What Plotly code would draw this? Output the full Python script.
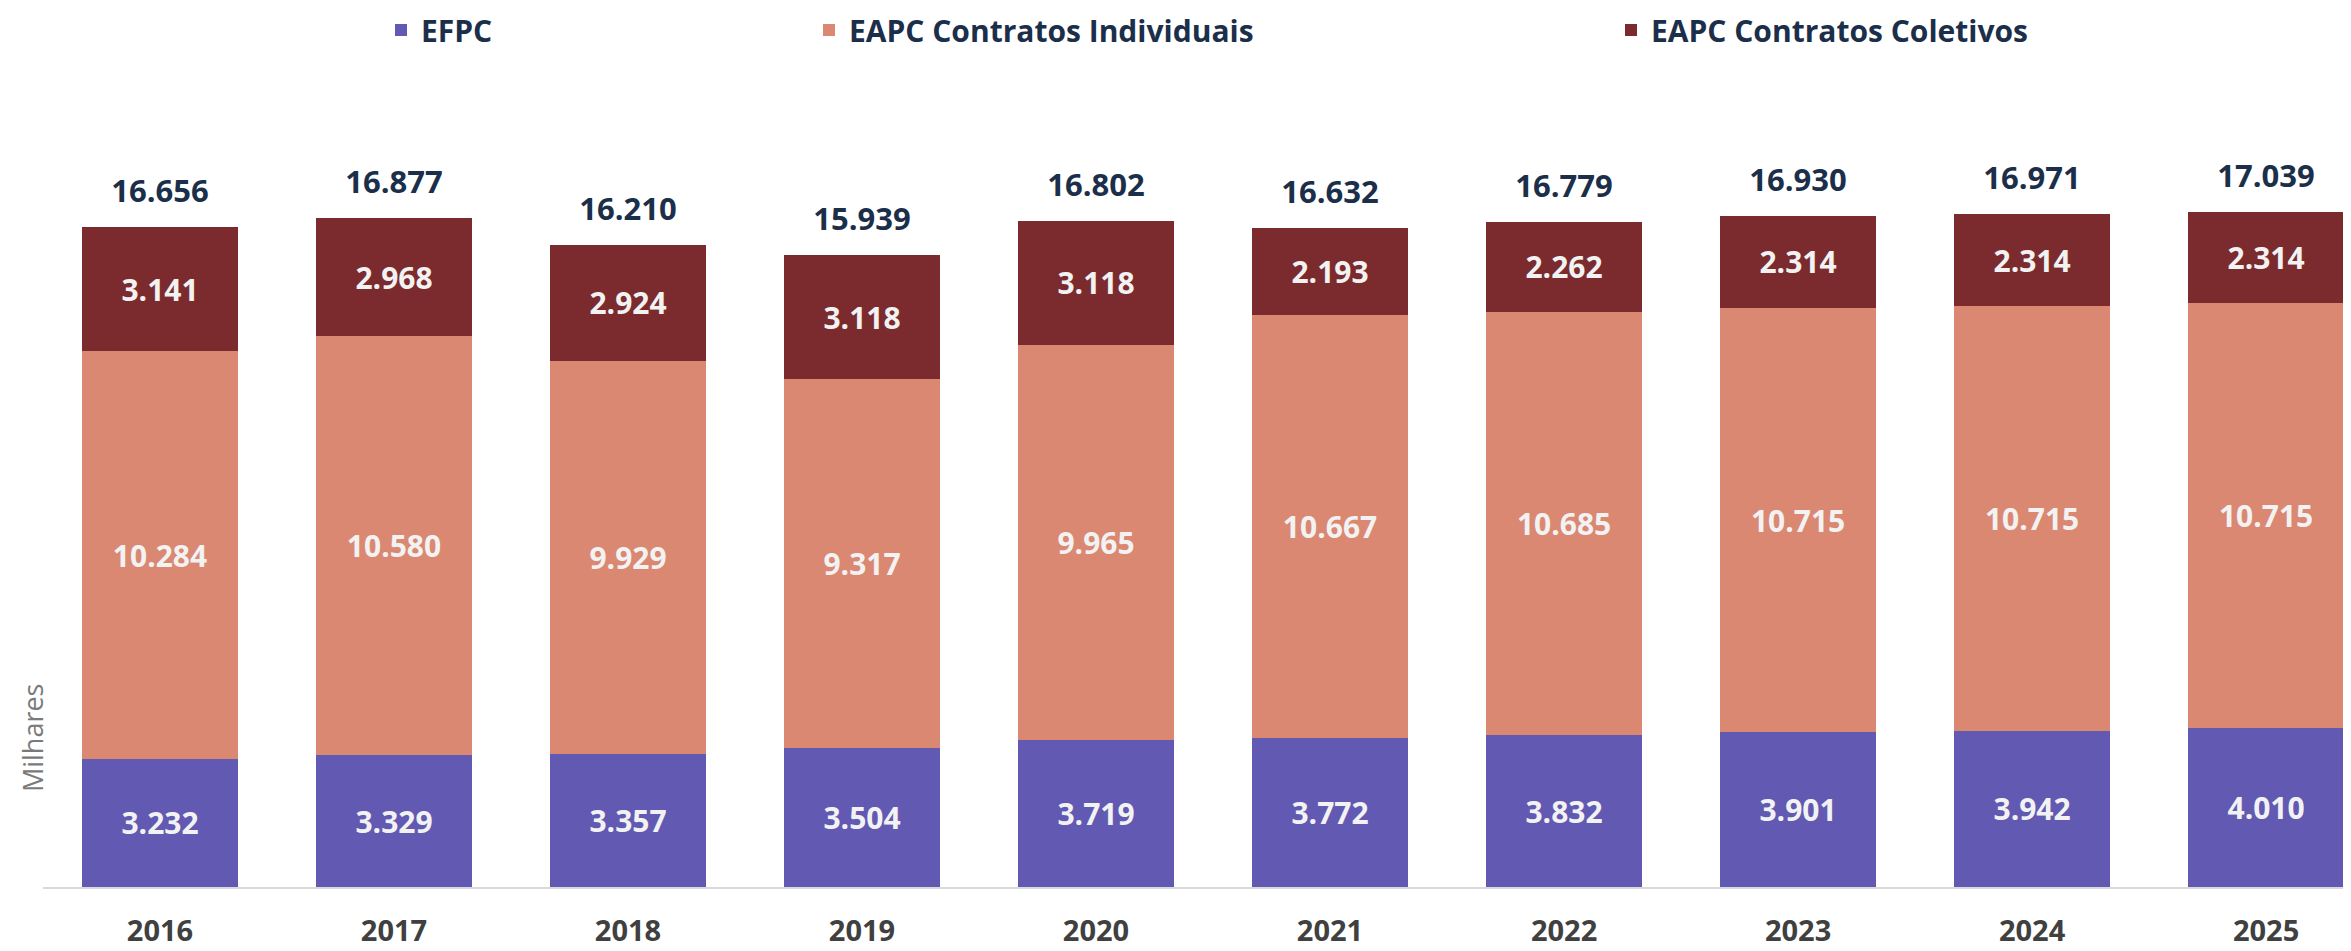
import plotly.graph_objects as go

years = ["2016", "2017", "2018", "2019", "2020", "2021", "2022", "2023", "2024", "2025"]
efpc = [3232, 3329, 3357, 3504, 3719, 3772, 3832, 3901, 3942, 4010]
eapc_ind = [10284, 10580, 9929, 9317, 9965, 10667, 10685, 10715, 10715, 10715]
eapc_col = [3141, 2968, 2924, 3118, 3118, 2193, 2262, 2314, 2314, 2314]
totals = [16656, 16877, 16210, 15939, 16802, 16632, 16779, 16930, 16971, 17039]

series_names = ["EFPC", "EAPC Contratos Individuais", "EAPC Contratos Coletivos"]
colors = ["#6259B2", "#DB8873", "#7B2A2D"]
FONT = "Open Sans"
NAVY = "#1B2F4A"

# page has an 8px body margin; figure sized to fill the rest of the 2351x951 window
W, H = 2343, 943
fig = go.Figure()

legends = ["legend", "legend2", "legend3"]
for name, vals, col, lg in zip(series_names, [efpc, eapc_ind, eapc_col], colors, legends):
    fig.add_trace(go.Bar(
        x=years, y=vals, name=name, marker=dict(color=col, line=dict(width=0)),
        texttemplate="%{y:,.0f}", textposition="inside", insidetextanchor="middle",
        textangle=0, constraintext="none",
        textfont=dict(family=FONT, size=30, color="#F2F2F2", weight="bold"),
        legend=lg, hoverinfo="skip",
    ))

fig.add_trace(go.Scatter(
    x=years, y=totals, mode="markers+text", texttemplate="%{y:,.0f}",
    marker=dict(size=26, color="rgba(0,0,0,0)"),
    textposition="top center", showlegend=False, hoverinfo="skip",
    textfont=dict(family=FONT, size=31, color=NAVY, weight="bold"),
    cliponaxis=False,
))

fig.add_annotation(
    text="Milhares", xref="paper", yref="paper", x=-0.0045, y=0.19,
    textangle=-90, showarrow=False, xanchor="center", yanchor="middle",
    font=dict(family=FONT, size=27, color="#7A7A7A"),
)

text_starts = [423, 851, 1653]
legend_cfg = {}
for lg, ts in zip(legends, text_starts):
    legend_cfg[lg] = dict(
        orientation="h", xref="container", yref="container",
        x=(ts - 50) / W, xanchor="left", y=1 - 22 / H, yanchor="middle",
        font=dict(family=FONT, size=30, color=NAVY, weight="bold"),
        bgcolor="rgba(0,0,0,0)", borderwidth=0,
    )

fig.update_layout(
    width=W, height=H, barmode="stack", bargap=0.333,
    separators=",.",
    paper_bgcolor="white", plot_bgcolor="white",
    margin=dict(l=35, r=0, t=92, b=64),
    font=dict(family=FONT),
    showlegend=True,
    xaxis=dict(
        type="category", range=[-0.5, 9.363], showline=True, linecolor="#D9D9D9",
        linewidth=2, ticks="", showgrid=False, zeroline=False,
        tickfont=dict(family=FONT, size=29, color="#404040", weight="bold"),
        ticklabelstandoff=17, automargin=False,
    ),
    yaxis=dict(range=[0, 19860], visible=False, showgrid=False, zeroline=False),
    **legend_cfg,
)

fig.write_html("out.html")
